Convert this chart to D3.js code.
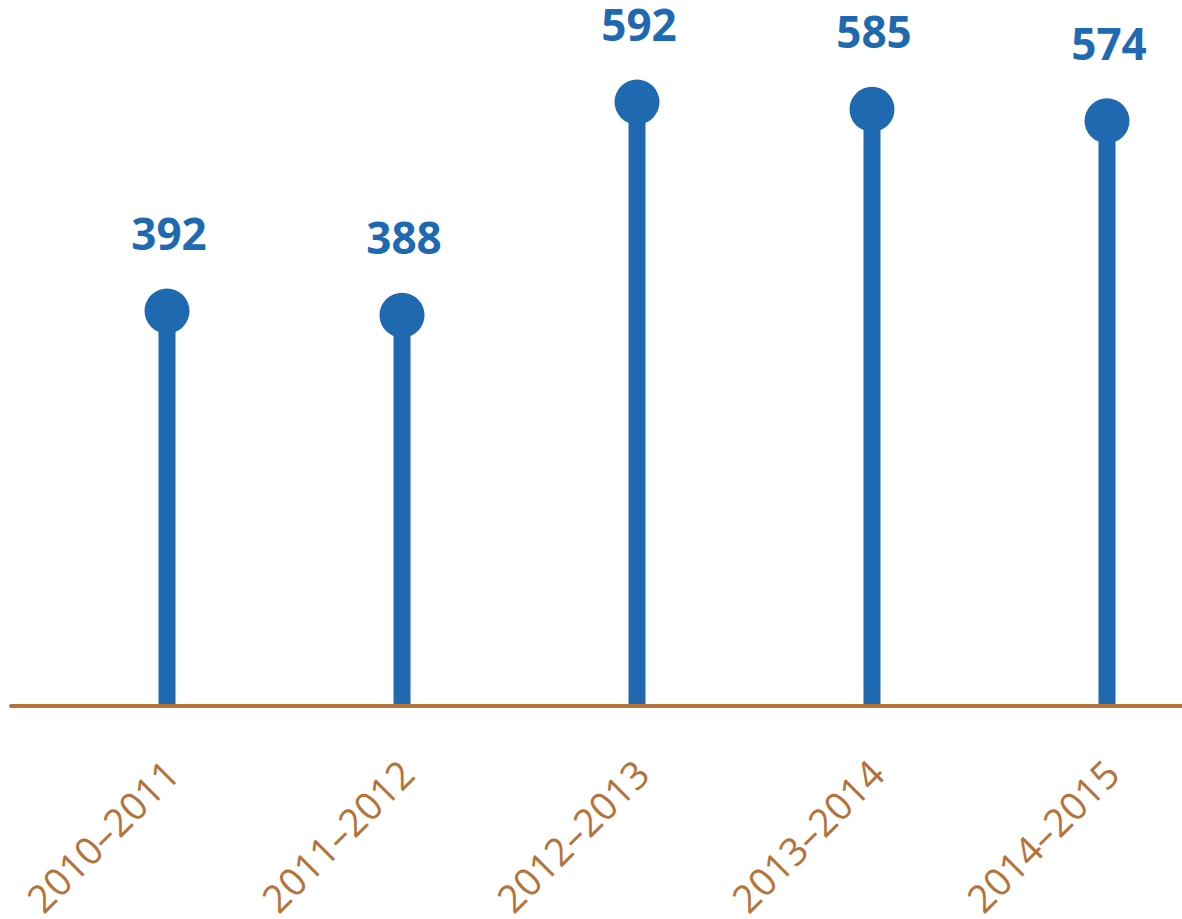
<!DOCTYPE html>
<html>
<head>
<meta charset="utf-8">
<script src="https://cdn.jsdelivr.net/npm/d3@7"></script>
<style>
  html, body { margin: 0; padding: 0; background: #fff; }
  svg { display: block; }
</style>
</head>
<body>
<div id="chart"></div>
<script>
var seasons = ['2010–2011', '2011–2012', '2012–2013', '2013–2014', '2014–2015'];
var counts = [392, 388, 592, 585, 574];

var blue = '#1f69b0';
var brown = '#b5733a';

(function draw() {

  var width = 1182, height = 919;
  var baseY = 706;

  var x = d3.scalePoint()
      .domain(seasons)
      .range([167, 1107]);

  // the baseline sits a little above zero in the source picture
  var y = d3.scaleLinear()
      .domain([14, 592])
      .range([baseY, 102]);

  var svg = d3.select('#chart')
    .append('svg')
      .attr('width', width)
      .attr('height', height);

  var data = seasons.map(function (s, i) {
    return { season: s, value: counts[i] };
  });

  svg.selectAll('line.stem')
      .data(data)
      .enter()
    .append('line')
      .attr('class', 'stem')
      .attr('x1', function (d) { return x(d.season); })
      .attr('x2', function (d) { return x(d.season); })
      .attr('y1', baseY)
      .attr('y2', function (d) { return y(d.value); })
      .attr('stroke', blue)
      .attr('stroke-width', 17);

  svg.selectAll('circle.dot')
      .data(data)
      .enter()
    .append('circle')
      .attr('class', 'dot')
      .attr('cx', function (d) { return x(d.season); })
      .attr('cy', function (d) { return y(d.value); })
      .attr('r', 22.5)
      .attr('fill', blue);

  svg.selectAll('text.value')
      .data(data)
      .enter()
    .append('text')
      .attr('class', 'value')
      .attr('x', function (d) { return x(d.season) + 2; })
      .attr('y', function (d) { return y(d.value) - 61; })
      .attr('text-anchor', 'middle')
      .attr('font-family', '"Open Sans", sans-serif')
      .attr('font-weight', 'bold')
      .attr('font-size', 44)
      .attr('fill', blue)
      .text(function (d) { return d.value; });

  svg.append('line')
      .attr('x1', 11)
      .attr('x2', width)
      .attr('y1', baseY)
      .attr('y2', baseY)
      .attr('stroke', brown)
      .attr('stroke-width', 4)
      .attr('stroke-linecap', 'round');

  svg.selectAll('text.season')
      .data(seasons)
      .enter()
    .append('text')
      .attr('class', 'season')
      .attr('transform', function (d) {
        return 'translate(' + (x(d) + 15) + ',' + (baseY + 71) + ') rotate(-45)';
      })
      .attr('text-anchor', 'end')
      .attr('font-family', '"Open Sans", sans-serif')
      .attr('font-size', 38.5)
      .attr('fill', brown)
      .text(function (d) { return d; });
})();
</script>
</body>
</html>
